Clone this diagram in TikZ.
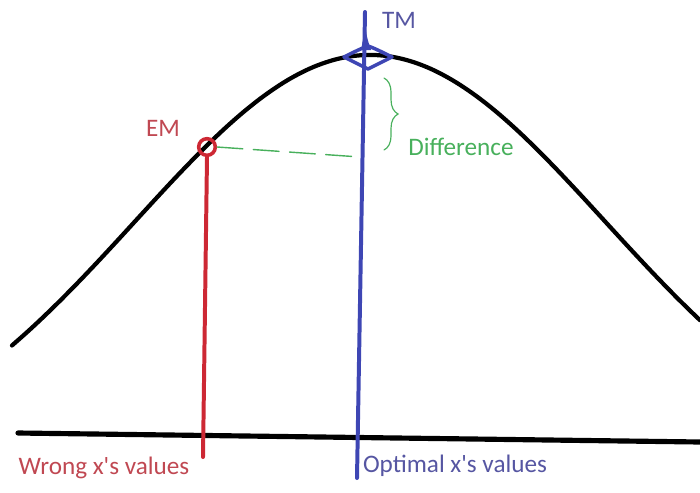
\documentclass[tikz,border=0pt]{standalone}
\usepackage{fontspec}
\setmainfont{Carlito}
\usepackage{xcolor}
\definecolor{wrongred}{RGB}{205, 40, 52}
\definecolor{wronglabel}{RGB}{192, 72, 82}
\definecolor{optblue}{RGB}{62, 70, 180}
\definecolor{optlabel}{RGB}{86, 86, 162}
\definecolor{diffgreen}{RGB}{72, 176, 92}
\usetikzlibrary{decorations.pathreplacing, positioning}

\begin{document}
\begin{tikzpicture}[x=0.03cm, y=-0.03cm, line cap=round,
    curve/.style={line width=3.6pt, black},
    txt/.style={font=\fontsize{21.5}{25}\selectfont, inner sep=0pt}]
    \useasboundingbox (0,0) rectangle (700,492);

    \coordinate (axisL) at (18,433);
    \coordinate (axisR) at (700,442);
    \coordinate (wrongx) at (203,457);
    \coordinate (optx) at (357,478);
    \coordinate (tmtop) at (365,12);
    \coordinate (tm) at (368,57);
    \coordinate (diffend) at (360,157);

    % axis and bell curve
    \draw[line width=4.4pt] (axisL) -- (axisR);
    \draw[curve] plot[domain=12:700, samples=90, smooth]
        (\x, {478-423*exp(-(((\x-370)/100)^2)/11.045)});

    % experimental maximum
    \node[circle, draw=wrongred, line width=3pt, minimum size=0.5cm, inner sep=0pt] (em) at (207,147) {};
    \draw[wrongred, line width=3.4pt] (em.south) -- (wrongx);

    % theoretical maximum
    \draw[optblue, line width=3pt, line join=round] (344,57) .. controls (354,52) and (362,48) .. (368,46)
        .. controls (374,48) and (382,52) .. (392,57) .. controls (382,62) and (374,66) .. (368,69)
        .. controls (362,66) and (354,62) .. (344,57) -- cycle;
    \draw[optblue, line width=3.4pt] (tmtop) -- (optx);
    \fill[optblue] (361,50) .. controls (364,35) .. (tmtop) .. controls (366,35) .. (371,50) -- cycle;

    % difference
    \draw[diffgreen, line width=1.2pt, dash pattern=on 22pt off 9pt] (em.east) -- (diffend);
    \draw[diffgreen, line width=1pt, decorate, decoration={brace, amplitude=12pt}] (384,78) -- (384,150);

    \node[txt, text=optlabel] (tmlabel) at (399,20) {TM};
    \node[txt, text=wronglabel] (emlabel) at (163,128) {EM};
    \node[txt, text=diffgreen] (difflabel) at (461,147) {Difference};
    \node[txt, text=wronglabel] (wronglabel) at (104,468) {Wrong x\textquotesingle s values};
    \node[txt, text=optlabel] (optlabel) at (455,466) {Optimal x\textquotesingle s values};
\end{tikzpicture}
\end{document}
